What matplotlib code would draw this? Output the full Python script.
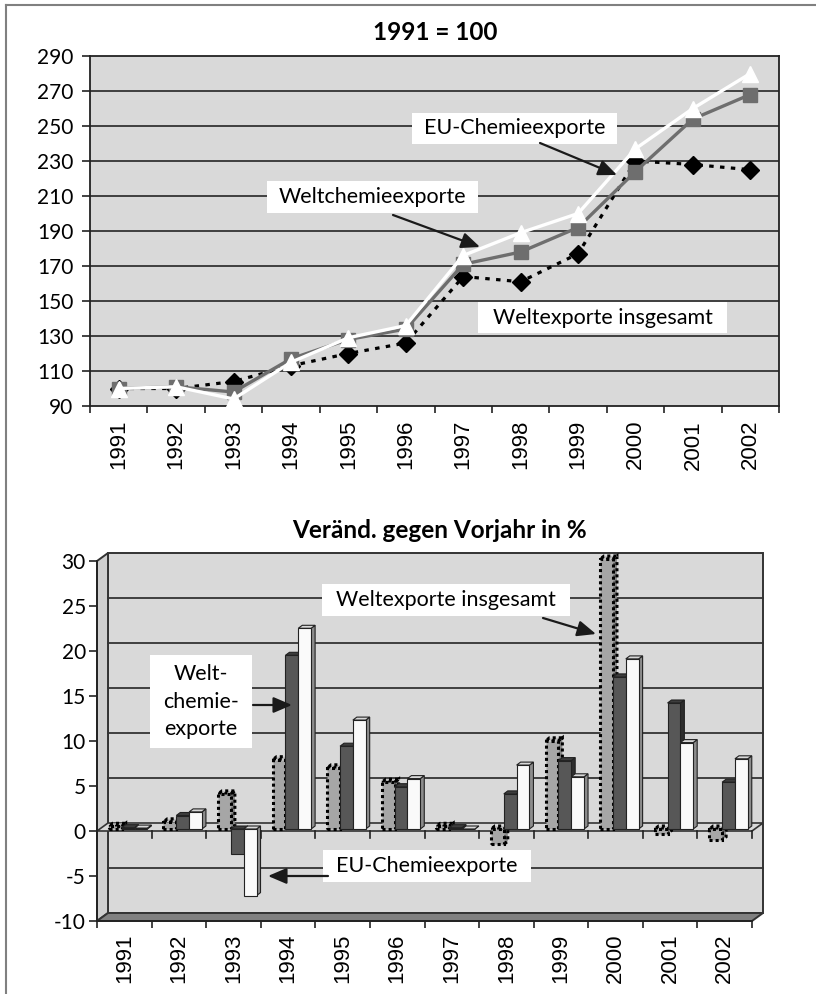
"""Chemical exports 1991-2002: index chart and year-on-year change bars."""

import numpy as np
import matplotlib
matplotlib.use("Agg")
import matplotlib.pyplot as plt  # noqa: E402
from matplotlib.patches import Rectangle, Polygon, FancyArrowPatch, ArrowStyle  # noqa: E402
from matplotlib.lines import Line2D  # noqa: E402

YEARS = [str(y) for y in range(1991, 2003)]

# index, 1991 = 100
welt_exporte = [100, 100, 104, 113, 120, 126, 164, 161, 177, 230, 228, 225]
welt_chemie = [100, 101, 98, 117, 128, 134, 171, 178, 192, 224, 254, 268]
eu_chemie = [100, 101, 94, 115, 129, 136, 176, 189, 200, 237, 260, 280]

# change against previous year, %
chg_welt_exporte = [0.3, 0.8, 3.9, 7.7, 6.8, 5.2, 0.3, -1.7, 9.8, 30.0, -0.5, -1.2]
chg_welt_chemie = [0.15, 1.5, -2.8, 19.3, 9.2, 4.7, 0.15, 3.9, 7.6, 16.9, 14.0, 5.2]
chg_eu_chemie = [0.1, 1.9, -7.4, 22.3, 12.1, 5.6, 0.0, 7.1, 5.8, 18.9, 9.6, 7.8]

W, H = 816, 994
plt.rcParams["font.family"] = ["Lato", "DejaVu Sans"]
plt.rcParams["axes.unicode_minus"] = False
YEAR_FONT = "Liberation Sans"
WALL = "#d9d9d9"
GRID = "#333333"
TICK_SIZE = 15
NOTE_SIZE = 15.5
TITLE_SIZE = 17.5


def ax_rect(left, top, right, bottom):
    return [left / W, 1 - bottom / H, (right - left) / W, (bottom - top) / H]


def fxy(x, y):
    return x / W, 1 - y / H


def label_box(fig, x0, y0, x1, y1, text, size=NOTE_SIZE, linespacing=1.2):
    fig.add_artist(Rectangle(fxy(x0, y1), (x1 - x0) / W, (y1 - y0) / H,
                             transform=fig.transFigure, facecolor="white",
                             edgecolor="none", zorder=10))
    cx, cy = fxy((x0 + x1) / 2, (y0 + y1) / 2)
    fig.text(cx, cy, text, ha="center", va="center", fontsize=size,
             linespacing=linespacing, zorder=11)


def arrow(fig, x0, y0, x1, y1):
    style = ArrowStyle("-|>", head_length=0.75, head_width=0.32)
    fig.add_artist(FancyArrowPatch(fxy(x0, y0), fxy(x1, y1), transform=fig.transFigure,
                                   arrowstyle=style, mutation_scale=15, lw=1.6,
                                   color="#1a1a1a", shrinkA=0, shrinkB=0, zorder=11))


def year_axis(ax, pad):
    ax.set_xlim(0, 12)
    ax.set_xticks(np.arange(13))
    ax.set_xticklabels([])
    ax.set_xticks(np.arange(12) + 0.5, minor=True)
    ax.set_xticklabels(YEARS, minor=True, rotation=90, fontfamily=YEAR_FONT, fontsize=16)
    ax.tick_params(axis="x", which="minor", length=0, pad=pad)
    ax.tick_params(axis="x", which="major", length=5, width=1.2, color="#222")


fig = plt.figure(figsize=(W / 100, H / 100), dpi=100)

# ---------------- top: index 1991 = 100 ----------------
ax1 = fig.add_axes(ax_rect(90, 56, 779, 406))
ax1.set_facecolor(WALL)
for v in range(110, 290, 20):
    ax1.axhline(v, color=GRID, lw=1.3, zorder=1)
x = np.arange(12) + 0.5
ax1.plot(x, welt_exporte, color="black", ls=(0, (1.4, 2.0)), lw=2.3, marker="D", ms=9,
         mfc="black", mec="black", zorder=3)
ax1.plot(x, welt_chemie, color="#6e6e6e", lw=2.4, marker="s", ms=10,
         mfc="#6e6e6e", mec="#6e6e6e", zorder=4)
ax1.plot(x, eu_chemie, color="white", lw=2.4, marker="^", ms=12,
         mfc="white", mec="white", zorder=5)
ax1.set_ylim(90, 290)
ax1.set_yticks(range(90, 291, 20))
ax1.tick_params(axis="y", length=6, width=1.2, pad=6, labelsize=TICK_SIZE, color="#222")
year_axis(ax1, 10)
for s in ax1.spines.values():
    s.set_color("#222")
    s.set_linewidth(1.3)
fig.text(*fxy(435, 32), "1991 = 100", ha="center", va="center",
         fontsize=TITLE_SIZE, fontweight="bold")

label_box(fig, 412, 113, 617, 144, "EU-Chemieexporte")
arrow(fig, 540, 143, 617, 175)
label_box(fig, 267, 181, 478, 213, "Weltchemieexporte")
arrow(fig, 393, 215, 480, 247)
label_box(fig, 478, 302, 727, 333, "Weltexporte insgesamt")

# ---------------- bottom: change against previous year ----------------
L, T, R, B = 97, 561, 752, 921
ax2 = fig.add_axes(ax_rect(L, T, R, B))
ax2.set_facecolor("none")
ax2.set_ylim(-10, 30)
px_cat = (R - L) / 12
px_unit = (B - T) / 40
DX, DY = 11 / px_cat, 8 / px_unit        # back wall offset
BDX, BDY = 4 / px_cat, 3 / px_unit       # bar depth
BASE = 2 / px_unit                       # bars stand slightly behind the front

kw = dict(clip_on=False, edgecolor=GRID, lw=1.4)
ax2.add_patch(Rectangle((DX, -10 + DY), 12, 40, facecolor=WALL, zorder=0, **kw))
ax2.add_patch(Polygon([(0, -10), (DX, -10 + DY), (DX, 30 + DY), (0, 30)],
                      facecolor="#cfcfcf", zorder=0, **kw))
ax2.add_patch(Polygon([(0, -10), (12, -10), (12 + DX, -10 + DY), (DX, -10 + DY)],
                      facecolor="#808080", zorder=1, **kw))
for v in (-5, 5, 10, 15, 20, 25):
    ax2.plot([DX, 12 + DX], [v + DY, v + DY], color=GRID, lw=1.3, zorder=1, clip_on=False)
ax2.add_patch(Polygon([(0, 0), (12, 0), (12 + DX, DY), (DX, DY)],
                      facecolor=WALL, zorder=1.5, clip_on=False, edgecolor=GRID, lw=1.2))
for k in range(13):
    ax2.plot([k, k], [0, -0.8], color="#222", lw=1.2, zorder=1.6, clip_on=False)

bw = 0.235
gx = (1 - 3 * bw) / 2 + 0.07
series = [
    (chg_welt_exporte, "#a6a6a6", "#8a8a8a", "#bcbcbc", True),
    (chg_welt_chemie, "#575757", "#2e2e2e", "#3d3d3d", False),
    (chg_eu_chemie, "#fafafa", "#8c8c8c", "#d8d8d8", False),
]
for i in range(12):
    for j, (vals, front, side, top, dotted) in enumerate(series):
        v = vals[i]
        x0 = i + gx + j * bw
        z = 3 + i * 0.01 + j * 0.001
        lo, hi = BASE + min(v, 0), BASE + max(v, 0)
        if dotted:
            ekw = dict(edgecolor="black", lw=2.2, ls=(0, (1, 1)))
        else:
            ekw = dict(edgecolor="#222", lw=0.8)
        ax2.add_patch(Polygon([(x0 + bw, lo), (x0 + bw, hi), (x0 + bw + BDX, hi + BDY),
                               (x0 + bw + BDX, lo + BDY)], facecolor=side, zorder=z,
                              clip_on=False, **ekw))
        ax2.add_patch(Polygon([(x0, hi), (x0 + bw, hi), (x0 + bw + BDX, hi + BDY),
                               (x0 + BDX, hi + BDY)], facecolor=top, zorder=z,
                              clip_on=False, **ekw))
        ax2.add_patch(Rectangle((x0, lo), bw, hi - lo, facecolor=front, zorder=z,
                                clip_on=False, **ekw))

for name, s in ax2.spines.items():
    s.set_visible(name in ("left", "bottom"))
    s.set_color("#222")
    s.set_linewidth(1.3)
    s.set_zorder(2)
ax2.set_yticks(range(-10, 31, 5))
ax2.tick_params(axis="y", length=6, width=1.2, pad=2, labelsize=TICK_SIZE, color="#222")
year_axis(ax2, 9)
fig.text(*fxy(439, 530), "Veränd. gegen Vorjahr in %", ha="center", va="center",
         fontsize=TITLE_SIZE, fontweight="bold")

label_box(fig, 322, 584, 570, 616, "Weltexporte insgesamt")
arrow(fig, 543, 618, 596, 634)
label_box(fig, 150, 655, 252, 748, "Welt-\nchemie-\nexporte", linespacing=1.45)
arrow(fig, 253, 705, 292, 705)
label_box(fig, 323, 850, 531, 882, "EU-Chemieexporte")
arrow(fig, 328, 876, 268, 876)

# page frame
fig.add_artist(Line2D([5.5 / W, 5.5 / W], [0, 1 - 5 / H], color="#808080", lw=1.5))
fig.add_artist(Line2D([5.5 / W, 1], [1 - 5 / H, 1 - 5 / H], color="#808080", lw=1.5))

fig.savefig("out.png", dpi=100)
